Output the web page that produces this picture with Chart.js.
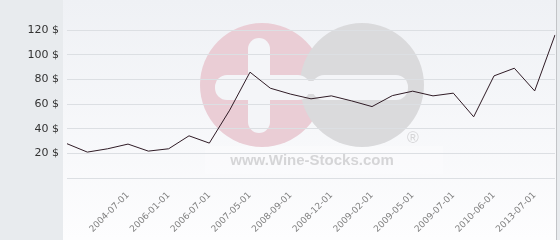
<!DOCTYPE html>
<html>
<head>
<meta charset="utf-8">
<script src="https://cdn.jsdelivr.net/npm/chart.js@4/dist/chart.umd.min.js"></script>
<style>
	body { margin: 0; background: #fff; }
	#wrap { position: relative; width: 560px; height: 240px; background: #e8ebee; }
	#panel { position: absolute; left: 63px; top: 0; width: 493px; height: 240px; border-right: 1px solid #c2c4c7; background: linear-gradient(to bottom, #eff1f5, #fdfdfe); }
	#chart { position: absolute; left: 0; top: 0; }
</style>
</head>
<body>
<div id="wrap">
	<div id="panel"></div>
	<canvas id="chart" width="560" height="240"></canvas>
</div>
<script>
// one point per date, only every other date is written under the axis
var categories = ['', '', '', '2004-07-01', '', '2006-01-01', '', '2006-07-01', '', '2007-05-01', '', '2008-09-01', '',
	'2008-12-01', '', '2009-02-01', '', '2009-05-01', '', '2009-07-01', '', '2010-06-01', '', '2013-07-01', ''];
var prices = [27.8, 21, 23.7, 27.5, 21.8, 23.7, 34.2, 28.3, 55, 85.8, 72.8, 68, 64.2,
	66.6, 62.5, 57.9, 66.8, 70.4, 66.6, 68.8, 49.6, 82.8, 89, 70.6, 116];
var yTicks = [0, 20, 40, 60, 80, 100, 120];

//////////////////// watermark ////////////////////
var watermark = {
	id: 'watermark',
	beforeDraw: function(chart) {
		var ctx = chart.ctx;
		ctx.save();
		ctx.fillStyle = 'rgba(255,255,255,0.25)';
		ctx.fillRect(205, 146, 238, 28);

		ctx.fillStyle = '#eacdd5';
		ctx.beginPath(); ctx.arc(262, 85, 62, 0, Math.PI * 2); ctx.fill();
		ctx.fillStyle = '#dadadc';
		ctx.beginPath(); ctx.arc(362, 85, 62, 0, Math.PI * 2); ctx.fill();

		ctx.fillStyle = '#f4f5f8';
		ctx.beginPath(); ctx.roundRect(248, 38, 22, 95, 11); ctx.fill();
		ctx.beginPath(); ctx.roundRect(215, 75, 95, 25, 12); ctx.fill();
		ctx.beginPath(); ctx.roundRect(312, 75, 96, 25, 12); ctx.fill();
		ctx.fillRect(298, 81, 22, 13);

		ctx.fillStyle = '#d5d5d7';
		ctx.textAlign = 'center';
		ctx.textBaseline = 'alphabetic';
		ctx.font = 'bold 15px "Liberation Sans"';
		ctx.fillText('www.Wine-Stocks.com', 312, 165);
		ctx.textBaseline = 'middle';
		ctx.font = '16px "Liberation Sans"';
		ctx.fillText('\u00ae', 413, 139);
		ctx.restore();
	}
};

var price_chart = document.getElementById('chart').getContext('2d');
var price = new Chart(price_chart, {
	type: 'line',
	data: {
		labels: categories,
		datasets: [{
			data: prices,
			fill: false,
			borderColor: '#2f1b25',
			borderWidth: 1,
			pointRadius: 0,
			tension: 0
		}]
	},
	options: {
		responsive: false,
		animation: false,
		layout: {
			padding: { top: 30, right: 5, left: 0, bottom: 0 }
		},
		plugins: {
			legend: { display: false },
			tooltip: { enabled: false }
		},
		scales: {
			x: {
				grid: { display: false },
				border: { display: false },
				afterFit: function(scale) {
					scale.height = 62;
					scale.paddingLeft = 0;
					scale.paddingRight = 0;
				},
				ticks: {
					autoSkip: false,
					minRotation: 45,
					maxRotation: 45,
					padding: 4,
					color: '#808080',
					font: { family: 'DejaVu Sans', size: 9 }
				}
			},
			y: {
				min: 0,
				max: 120,
				afterFit: function(scale) { scale.width = 67; },
				afterBuildTicks: function(scale) {
					scale.ticks = yTicks.map(function(v) { return { value: v }; });
				},
				grid: { color: '#dcdfe3', drawTicks: false },
				border: { display: false },
				ticks: {
					padding: 8,
					color: '#333',
					font: { family: 'DejaVu Sans', size: 11 },
					callback: function(value) { return value === 0 ? '' : value + ' $'; }
				}
			}
		}
	},
	plugins: [watermark]
});
</script>
</body>
</html>
